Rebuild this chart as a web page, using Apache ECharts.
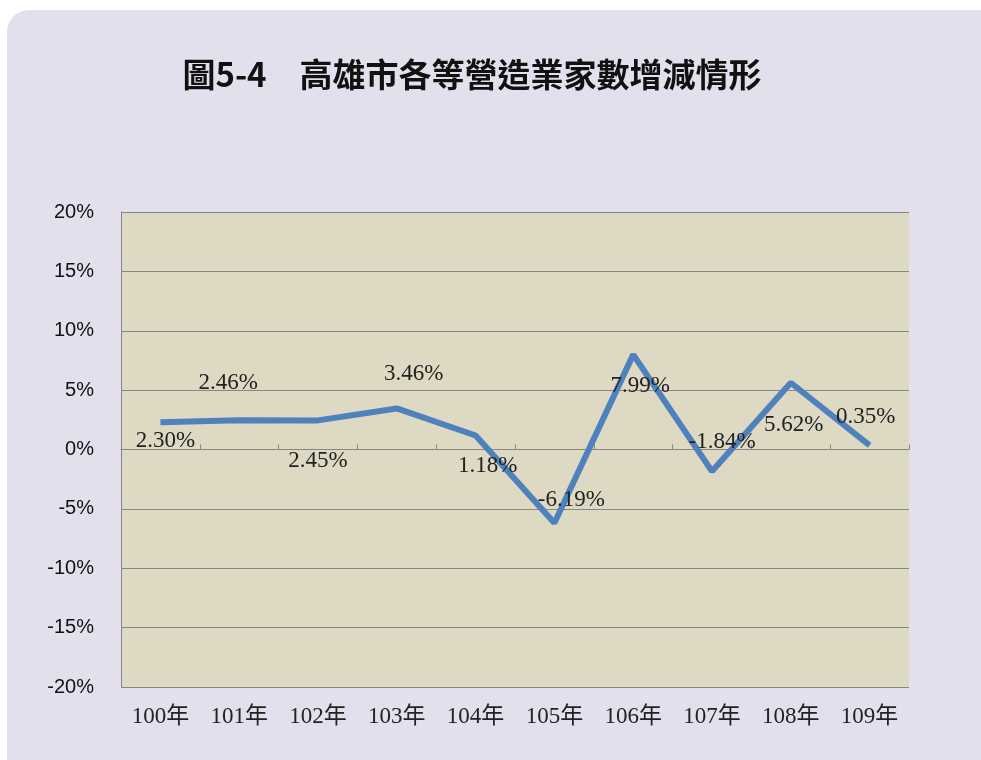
<!DOCTYPE html>
<html><head><meta charset="utf-8">
<script src="https://cdn.jsdelivr.net/npm/echarts@6/dist/echarts.min.js"></script>
<style>html,body{margin:0;padding:0;background:#fff;}#c{width:981px;height:760px;}</style>
</head><body><div id="c"></div>
<script>
const titleText = '圖5-4\u3000高雄市各等營造業家數增減情形';
const categories = ['100年','101年','102年','103年','104年','105年','106年','107年','108年','109年'];
const growthRates = [2.30, 2.46, 2.45, 3.46, 1.18, -6.19, 7.99, -1.84, 5.62, 0.35];
const yTicks = [-20, -15, -10, -5, 0, 5, 10, 15, 20];
const labelOffsets = [[5,19],[-11,-37],[0,41],[17,-34],[12,30],[17,-23],[7,31],[10,-29],[3,42],[-4,-28]];

const chart = echarts.init(document.getElementById('c'));
const serif = '"Liberation Serif","DejaVu Serif","Noto Sans CJK TC",serif';
chart.setOption({
  backgroundColor: '#ffffff',
  animation: false,
  graphic: [{
    type: 'rect', z: -10, silent: true,
    shape: {x: 7, y: 10, width: 1000, height: 800, r: 22},
    style: {fill: '#e4dfec'}
  }],
  title: {
    text: titleText, left: 467, textAlign: 'center', top: 53,
    textStyle: {fontFamily: '"Noto Sans CJK TC",sans-serif', fontWeight: 'bold', fontSize: 33, color: '#111'}
  },
  grid: {left: 121, right: 72, top: 212, bottom: 73, show: true, backgroundColor: '#ddd9c3', borderWidth: 0},
  xAxis: [{
    type: 'category', data: categories, boundaryGap: true,
    axisLine: {onZero: true, lineStyle: {color: '#868686', width: 1}},
    axisTick: {show: true, inside: true, length: 5, lineStyle: {color: '#868686'}},
    axisLabel: {show: false}
  }, {
    type: 'category', data: categories, boundaryGap: true, position: 'bottom',
    axisLine: {show: false}, axisTick: {show: false},
    axisLabel: {fontFamily: serif, fontSize: 23, color: '#222', margin: 18}
  }],
  yAxis: {
    type: 'value', min: -20, max: 20, interval: 5,
    axisLine: {show: true, lineStyle: {color: '#868686'}},
    axisTick: {show: false},
    splitLine: {lineStyle: {color: '#868686', width: 1}},
    axisLabel: {formatter: '{value}%', fontFamily: '"Liberation Sans",Arial,sans-serif', fontSize: 20, color: '#111', margin: 27}
  },
  series: [{
    type: 'line', xAxisIndex: 0,
    data: growthRates.map((v, i) => ({value: v, label: {offset: labelOffsets[i]}})),
    lineStyle: {color: '#4f81bd', width: 6},
    itemStyle: {color: '#4f81bd'},
    symbol: 'circle', symbolSize: 0.1, showSymbol: true,
    label: {show: true, position: 'inside', formatter: p => p.value.toFixed(2) + '%',
      fontFamily: serif, fontSize: 23, color: '#222'}
  }]
});
</script></body></html>
